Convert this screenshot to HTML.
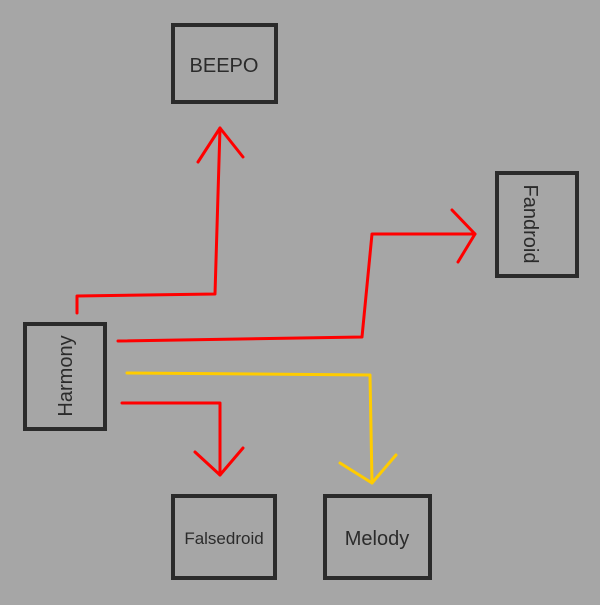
<!DOCTYPE html>
<html><head><style>
body{margin:0;width:600px;height:600px;background:#a6a6a6;overflow:hidden;font-family:"Liberation Sans",sans-serif;}
</style></head><body>
<svg width="600" height="600" xmlns="http://www.w3.org/2000/svg">
<rect width="600" height="600" fill="#a6a6a6"/>
<g fill="none" stroke="#2b2b2b" stroke-width="4">
<rect x="173" y="25" width="103" height="77"/>
<rect x="25" y="324" width="80" height="105"/>
<rect x="497" y="173" width="80" height="103"/>
<rect x="173" y="496" width="102" height="82"/>
<rect x="325" y="496" width="105" height="82"/>
</g>
<g fill="none" stroke-width="3" stroke-linecap="round" stroke-linejoin="round">
<polyline stroke="#ff0000" points="77,313 77,296 215,294 220,128"/>
<polyline stroke="#ff0000" points="198,162 220,128 243,157"/>
<polyline stroke="#ff0000" points="118,341 362,337 372,234 475,234"/>
<polyline stroke="#ff0000" points="452,210 475,234 458,262"/>
<polyline stroke="#ffcc00" points="127,373 370,375 372,483"/>
<polyline stroke="#ffcc00" points="340,463 372,483 396,455"/>
<polyline stroke="#ff0000" points="122,403 220,403 220,475"/>
<polyline stroke="#ff0000" points="195,452 220,475 243,448"/>
</g>
<g fill="#2b2b2b" font-family="Liberation Sans, sans-serif" text-anchor="middle">
<text x="224" y="72" font-size="20">BEEPO</text>
<text x="224" y="544" font-size="17">Falsedroid</text>
<text x="377" y="545" font-size="20">Melody</text>
<text transform="translate(72,376) rotate(-90)" font-size="20">Harmony</text>
<text transform="translate(524,224) rotate(90)" font-size="20">Fandroid</text>
</g>
</svg>
</body></html>
